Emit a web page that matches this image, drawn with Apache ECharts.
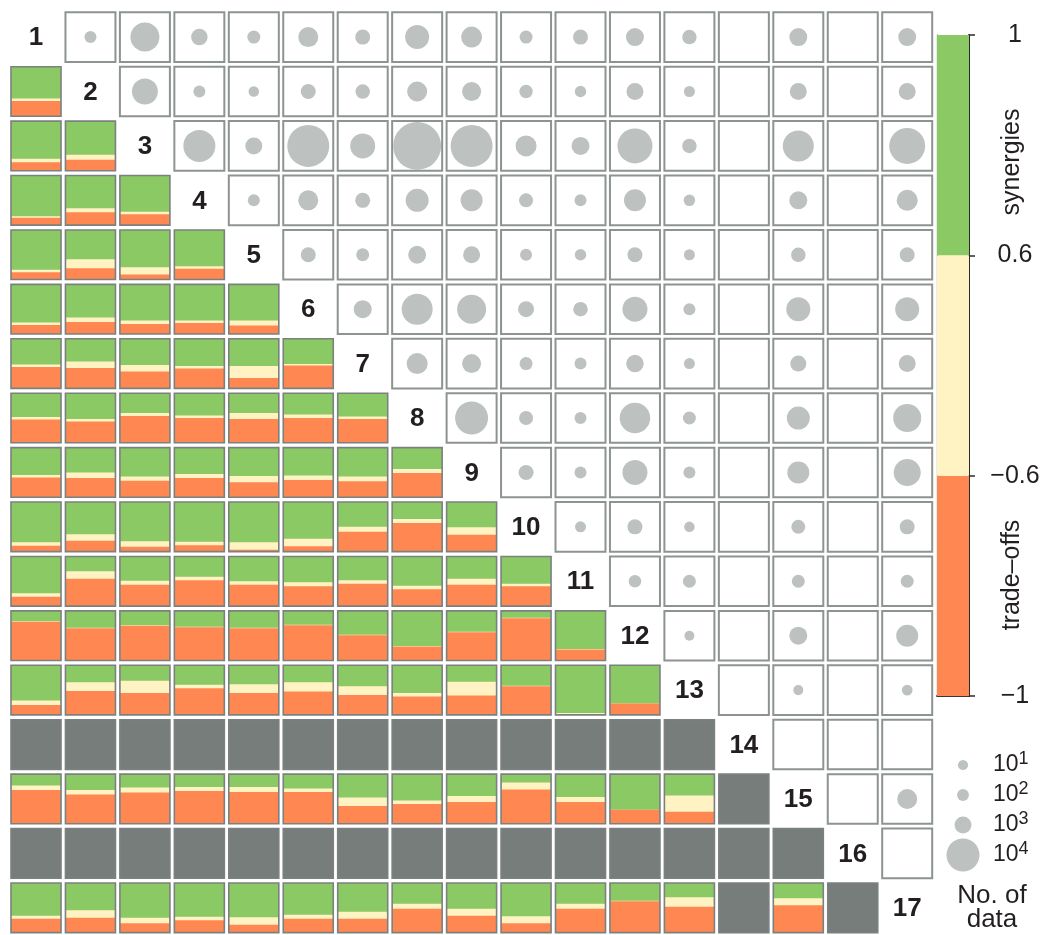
<!DOCTYPE html>
<html><head><meta charset="utf-8">
<script src="https://cdn.jsdelivr.net/npm/echarts@6/dist/echarts.min.js"></script>
<style>html,body{margin:0;padding:0;background:#fff}#chart{width:1046px;height:935px}</style>
</head><body><div id="chart"></div>
<script>
const diagLabels = ['1','2','3','4','5','6','7','8','9','10','11','12','13','14','15','16','17'];

// Lower triangle: share of trade-offs (orange, bottom) per row, columns 1..row-1; null = no data
const tradeOffs = [
  [],
  [0.31],
  [0.17, 0.22],
  [0.15, 0.26, 0.22],
  [0.15, 0.23, 0.10, 0.22],
  [0.18, 0.24, 0.20, 0.22, 0.17],
  [0.43, 0.41, 0.34, 0.40, 0.21, 0.46],
  [0.47, 0.43, 0.54, 0.50, 0.48, 0.50, 0.48],
  [0.40, 0.39, 0.33, 0.39, 0.30, 0.35, 0.32, 0.49],
  [0.12, 0.22, 0.10, 0.13, 0.04, 0.11, 0.40, 0.58, 0.34],
  [0.19, 0.55, 0.43, 0.52, 0.43, 0.40, 0.45, 0.34, 0.43, 0.40],
  [0.78, 0.65, 0.70, 0.67, 0.65, 0.71, 0.51, 0.28, 0.57, 0.85, 0.22],
  [0.20, 0.48, 0.44, 0.54, 0.44, 0.47, 0.40, 0.37, 0.39, 0.58, 0.01, 0.23],
  [null, null, null, null, null, null, null, null, null, null, null, null, null],
  [0.68, 0.59, 0.63, 0.66, 0.64, 0.64, 0.36, 0.40, 0.44, 0.69, 0.44, 0.28, 0.24, null],
  [null, null, null, null, null, null, null, null, null, null, null, null, null, null, null],
  [0.28, 0.30, 0.19, 0.25, 0.16, 0.28, 0.28, 0.48, 0.34, 0.19, 0.48, 0.63, 0.52, null, 0.55, null]
];
// Lower triangle: share of neutral (yellow, middle)
const neutral = [
  [],
  [0.05],
  [0.07, 0.10],
  [0.03, 0.08, 0.05],
  [0.05, 0.18, 0.15, 0.05],
  [0.05, 0.09, 0.07, 0.05, 0.10],
  [0.05, 0.13, 0.13, 0.05, 0.24, 0.03],
  [0.05, 0.05, 0.06, 0.05, 0.12, 0.07, 0.05],
  [0.05, 0.11, 0.09, 0.08, 0.13, 0.09, 0.10, 0.08],
  [0.07, 0.13, 0.11, 0.07, 0.15, 0.15, 0.10, 0.08, 0.15],
  [0.07, 0.15, 0.08, 0.07, 0.07, 0.08, 0.07, 0.07, 0.12, 0.05],
  [0.01, 0.01, 0.01, 0.01, 0.01, 0.01, 0.01, 0.01, 0.01, 0.01, 0.01],
  [0.09, 0.18, 0.25, 0.07, 0.18, 0.19, 0.18, 0.07, 0.28, 0.01, 0.03, 0.00],
  [null, null, null, null, null, null, null, null, null, null, null, null, null],
  [0.09, 0.09, 0.10, 0.08, 0.10, 0.07, 0.17, 0.07, 0.12, 0.14, 0.10, 0.00, 0.33, null],
  [null, null, null, null, null, null, null, null, null, null, null, null, null, null, null],
  [0.06, 0.15, 0.11, 0.07, 0.15, 0.08, 0.14, 0.10, 0.14, 0.14, 0.10, 0.01, 0.19, null, 0.14, null]
];
// Upper triangle: number of data per row, columns row+1..17; null = empty
const dataCount = [
  [110, 6900, 890, 220, 2000, 550, 3800, 2400, 220, 550, 1300, 450, null, 1300, null, 1300],
  [4900, 110, 18, 550, 450, 2000, 1630, 275, 72, 1020, 41, null, 1020, null, 1020],
  [9170, 1020, 19100, 4350, 26800, 19100, 2400, 1300, 11800, 450, null, 8370, null, 12700],
  [110, 2000, 550, 3300, 2830, 370, 110, 2830, 72, null, 1300, null, 2400],
  [550, 220, 1300, 1020, 110, 72, 550, 41, null, 450, null, 550],
  [1300, 8370, 6900, 765, 450, 4350, 110, null, 3800, null, 3800],
  [2400, 1630, 220, 110, 1160, 41, null, 765, null, 1020],
  [10000, 370, 110, 8000, 220, null, 3300, null, 6200],
  [550, 110, 4350, 110, null, 2830, null, 5550],
  [41, 550, 18, null, 370, null, 550],
  [163, 220, null, 220, null, 220],
  [3, null, 1300, null, 2830],
  [null, 5, null, 26],
  [null, null, null],
  [null, 2000],
  [null],
  []
];
const cbTickLabels = ['\u22121', '\u22120.6', '0.6', '1'];
const cbSegments = [
  { name: 'trade-offs', value: 1 },
  { name: 'neutral', value: 1 },
  { name: 'synergies', value: 1 }
];
const sizeLegendExp = ['1', '2', '3', '4'];
const sizeLegendCount = [10, 100, 1000, 10000];

const C_GREEN = '#8bc965', C_YELLOW = '#fff3c3', C_ORANGE = '#ff8751', C_NODATA = '#767d7b';
const C_DOT = '#bdc2c1', FONT = "'Liberation Sans', Arial, Helvetica, sans-serif";
const PADX = (1 - 50 / 54.45) / 2, PADY = (1 - 50 / 54.85) / 2;
const dotSize = (n) => 9.5 + 0.235 * Math.sqrt(n);

const lowerData = [], upperBoxData = [], dotData = [], diagData = [];
for (let r = 1; r <= 17; r++) {
  diagData.push([r, r, diagLabels[r - 1]]);
  for (let c = 1; c < r; c++) {
    const o = tradeOffs[r - 1][c - 1], n = neutral[r - 1][c - 1];
    lowerData.push([c, r, o == null ? 0 : o, n == null ? 0 : n, o == null ? 1 : 0]);
  }
  for (let c = r + 1; c <= 17; c++) {
    upperBoxData.push([c, r]);
    const v = dataCount[r - 1][c - r - 1];
    if (v != null) dotData.push([c - 0.5, r - 0.5, v]);
  }
}

function cellRect(api, c, r) {
  const p0 = api.coord([c - 1 + PADX, r - 1 + PADY]);
  const p1 = api.coord([c - PADX, r - PADY]);
  return { x: p0[0], y: p0[1], width: p1[0] - p0[0], height: p1[1] - p0[1] };
}

function renderLower(params, api) {
  const c = api.value(0), r = api.value(1), o = api.value(2), n = api.value(3), miss = api.value(4);
  const R = cellRect(api, c, r);
  const border = { type: 'rect', shape: R, style: { fill: 'none', stroke: '#7b8180', lineWidth: 1.6 } };
  if (miss) {
    return { type: 'group', children: [
      { type: 'rect', shape: R, style: { fill: C_NODATA } }, border ] };
  }
  const hO = o * R.height, hN = n * R.height;
  return { type: 'group', children: [
    { type: 'rect', shape: R, style: { fill: C_GREEN } },
    { type: 'rect', shape: { x: R.x, y: R.y + R.height - hO - hN, width: R.width, height: hO + hN }, style: { fill: C_YELLOW } },
    { type: 'rect', shape: { x: R.x, y: R.y + R.height - hO, width: R.width, height: hO }, style: { fill: C_ORANGE } },
    border ] };
}
function renderUpper(params, api) {
  const R = cellRect(api, api.value(0), api.value(1));
  return { type: 'rect', shape: R, style: { fill: '#fff', stroke: '#8d9392', lineWidth: 2 } };
}
function renderDiag(params, api) {
  const p = api.coord([api.value(0) - 0.5, api.value(1) - 0.5]);
  return { type: 'text', style: { text: diagLabels[params.dataIndex], x: p[0], y: p[1] + 1,
    align: 'center', verticalAlign: 'middle', font: 'bold 26px ' + FONT, fill: '#231f20' } };
}

const chart = echarts.init(document.getElementById('chart'), null, { renderer: 'canvas' });
chart.setOption({
  animation: false,
  backgroundColor: '#fff',
  grid: [
    { left: 8.78, top: 9.88, width: 17 * 54.45, height: 17 * 54.85 },
    { left: 937, top: 35, width: 32, height: 661 },
    { left: 948, top: 750, width: 30, height: 120 }
  ],
  xAxis: [
    { gridIndex: 0, type: 'value', min: 0, max: 17, show: false },
    { gridIndex: 1, type: 'category', data: ['cb'], position: 'bottom',
      axisLine: { show: true, lineStyle: { color: '#2b2b2b', width: 1.5 } }, axisTick: { show: false }, axisLabel: { show: false } },
    { gridIndex: 1, type: 'category', data: ['cb'], position: 'top',
      axisLine: { show: true, lineStyle: { color: '#2b2b2b', width: 1.5 } }, axisTick: { show: false }, axisLabel: { show: false } },
    { gridIndex: 2, type: 'value', min: 0, max: 1, show: false }
  ],
  yAxis: [
    { gridIndex: 0, type: 'value', min: 0, max: 17, inverse: true, show: false },
    { gridIndex: 1, type: 'value', min: 0, max: 3, interval: 1, position: 'right',
      axisLine: { show: true, lineStyle: { color: '#2b2b2b', width: 2 } },
      axisTick: { show: true, length: 6, lineStyle: { color: '#2b2b2b', width: 1.5 } },
      splitLine: { show: false },
      axisLabel: { formatter: (v) => cbTickLabels[v], fontSize: 25, color: '#231f20', fontFamily: FONT, margin: 46, align: 'center' } },
    { gridIndex: 1, type: 'value', min: 0, max: 3, position: 'left',
      axisLine: { show: true, lineStyle: { color: '#3a3a3a', width: 1.2 } },
      axisTick: { show: false }, axisLabel: { show: false }, splitLine: { show: false } },
    { gridIndex: 2, type: 'category', data: sizeLegendExp, inverse: true, position: 'right',
      axisLine: { show: false }, axisTick: { show: false },
      axisLabel: { margin: 15, align: 'left', formatter: (v) => '{b|10}{s|' + v + '}',
        rich: { b: { fontSize: 23, fontFamily: FONT, color: '#231f20', lineHeight: 30 },
                s: { fontSize: 18, fontFamily: FONT, color: '#231f20', verticalAlign: 'top', lineHeight: 10 } } } }
  ],
  series: [
    { type: 'custom', name: 'upper', xAxisIndex: 0, yAxisIndex: 0, data: upperBoxData, renderItem: renderUpper, z: 1 },
    { type: 'custom', name: 'lower', xAxisIndex: 0, yAxisIndex: 0, data: lowerData, renderItem: renderLower, z: 1 },
    { type: 'scatter', name: 'No. of data', xAxisIndex: 0, yAxisIndex: 0, data: dotData,
      symbolSize: (v) => dotSize(v[2]), itemStyle: { color: C_DOT, opacity: 1 }, z: 3 },
    { type: 'custom', name: 'diag', xAxisIndex: 0, yAxisIndex: 0, data: diagData, renderItem: renderDiag, z: 4 },
    { type: 'bar', name: cbSegments[0].name, xAxisIndex: 1, yAxisIndex: 1, stack: 'cb', barWidth: '100%',
      data: [cbSegments[0].value], itemStyle: { color: C_ORANGE } },
    { type: 'bar', name: cbSegments[1].name, xAxisIndex: 1, yAxisIndex: 1, stack: 'cb', barWidth: '100%',
      data: [cbSegments[1].value], itemStyle: { color: C_YELLOW } },
    { type: 'bar', name: cbSegments[2].name, xAxisIndex: 1, yAxisIndex: 1, stack: 'cb', barWidth: '100%',
      data: [cbSegments[2].value], itemStyle: { color: C_GREEN } },
    { type: 'scatter', name: 'size legend', xAxisIndex: 3, yAxisIndex: 3,
      data: sizeLegendExp.map((e, i) => [0.5, e, sizeLegendCount[i]]),
      symbolSize: (v) => dotSize(v[2]), itemStyle: { color: C_DOT, opacity: 1 } }
  ],
  graphic: [
    { type: 'text', x: 1012, y: 162, rotation: Math.PI / 2,
      style: { text: 'synergies', font: '25px ' + FONT, fill: '#231f20', align: 'center', verticalAlign: 'middle' } },
    { type: 'text', x: 1012, y: 575, rotation: Math.PI / 2,
      style: { text: 'trade\u2013offs', font: '25px ' + FONT, fill: '#231f20', align: 'center', verticalAlign: 'middle' } },
    { type: 'text', x: 992, y: 908,
      style: { text: 'No. of\ndata', font: '26px ' + FONT, lineHeight: 24, fill: '#231f20', align: 'center', verticalAlign: 'middle' } }
  ]
});
</script></body></html>
